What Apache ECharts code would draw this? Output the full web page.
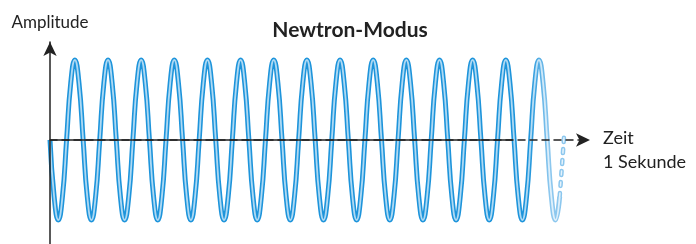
<!DOCTYPE html>
<html>
<head>
<meta charset="utf-8">
<script src="https://cdn.jsdelivr.net/npm/echarts@6/dist/echarts.min.js"></script>
<style>
html,body{margin:0;padding:0;background:#fff;}
#c{width:696px;height:244px;}
</style>
</head>
<body>
<div id="c"></div>
<script>
// ---- data ----
const titleText = 'Newtron-Modus';
const yAxisLabel = 'Amplitude';
const xAxisLabel = 'Zeit';
const xAxisUnit = '1 Sekunde';
// one wave period sampled at 1/8-period steps (starts at zero, going down)
const cycleShape = [0, -0.71, -1, -0.71, 0, 0.71, 1, 0.71];
const solidCycles = 15.375;      // length of the drawn (solid) wave, in periods
const dashedEnd = 15.5;          // dashed continuation ends here
const solidAxisEnd = 13.95;      // time axis is solid up to here, dashed after
const xMax = 16.29;
const yMin = -1.3, yMax = 1.225;

// build point tables
const stepsPerCycle = cycleShape.length;
const wave = [];
for (let i = 0; i <= Math.round(solidCycles * stepsPerCycle); i++) {
  wave.push([i / stepsPerCycle, cycleShape[i % stepsPerCycle]]);
}
const dashed = [];
for (let i = Math.round(solidCycles * stepsPerCycle); i <= Math.round(dashedEnd * stepsPerCycle); i++) {
  dashed.push([i / stepsPerCycle, cycleShape[i % stepsPerCycle]]);
}
dashed.push([dashedEnd + 0.01, 0.09]);
const axisSolid = [[0, 0], [solidAxisEnd, 0]];

const G = echarts.graphic.LinearGradient;
const outerGrad = new G(0, 0, 1, 0, [
  {offset: 0, color: '#1d94db'}, {offset: 0.935, color: '#1d94db'},
  {offset: 0.975, color: '#8cc7ee'}, {offset: 1, color: '#8cc7ee'}]);
const innerGrad = new G(0, 0, 1, 0, [
  {offset: 0, color: '#aed9f3'}, {offset: 0.935, color: '#aed9f3'},
  {offset: 0.975, color: '#dff0fb'}, {offset: 1, color: '#dff0fb'}]);

const chart = echarts.init(document.getElementById('c'), null, {renderer: 'canvas'});
const font = 'Lato, "Open Sans", sans-serif';
chart.setOption({
  animation: false,
  title: {
    text: titleText, left: 345, top: 15, textAlign: 'center',
    textStyle: {fontFamily: font, fontWeight: 'bold', fontSize: 21, color: '#222'}
  },
  grid: {left: 50, right: 106, top: 42, bottom: 0, containLabel: false},
  xAxis: {
    type: 'value', min: 0, max: xMax, z: 5,
    axisLine: {show: true, onZero: true, symbol: ['none', 'arrow'], symbolSize: [10, 14],
      lineStyle: {color: '#222', width: 1.5, type: [7, 5]}},
    axisTick: {show: false}, axisLabel: {show: false}, splitLine: {show: false}
  },
  yAxis: {
    type: 'value', min: yMin, max: yMax, z: 5,
    name: yAxisLabel, nameLocation: 'end', nameGap: 11,
    nameTextStyle: {fontFamily: font, fontSize: 17, color: '#222', align: 'center'},
    axisLine: {show: true, symbol: ['none', 'arrow'], symbolSize: [10, 14],
      lineStyle: {color: '#222', width: 1.5}},
    axisTick: {show: false}, axisLabel: {show: false}, splitLine: {show: false}
  },
  graphic: [
    {type: 'text', left: 603, top: 129, style: {text: xAxisLabel, font: '18px ' + font, fill: '#222'}},
    {type: 'text', left: 603, top: 153, style: {text: xAxisUnit, font: '18px ' + font, fill: '#222'}}
  ],
  series: [
    {type: 'line', data: wave, smooth: 0.5, showSymbol: false, symbol: 'none', z: 2,
      lineStyle: {width: 5, color: outerGrad}},
    {type: 'line', data: wave, smooth: 0.5, showSymbol: false, symbol: 'none', z: 3,
      lineStyle: {width: 1.8, color: innerGrad}},
    {type: 'line', data: dashed, smooth: 0.5, showSymbol: false, symbol: 'none', z: 2,
      lineStyle: {width: 4.5, color: '#8cc7ee', type: [4, 7], cap: 'round'}},
    {type: 'line', data: dashed, smooth: 0.5, showSymbol: false, symbol: 'none', z: 3,
      lineStyle: {width: 1.5, color: '#e6f3fb', type: [4, 7], cap: 'round'}},
    {type: 'line', data: axisSolid, showSymbol: false, symbol: 'none', z: 6,
      lineStyle: {width: 1.5, color: '#222'}}
  ]
});
</script>
</body>
</html>
